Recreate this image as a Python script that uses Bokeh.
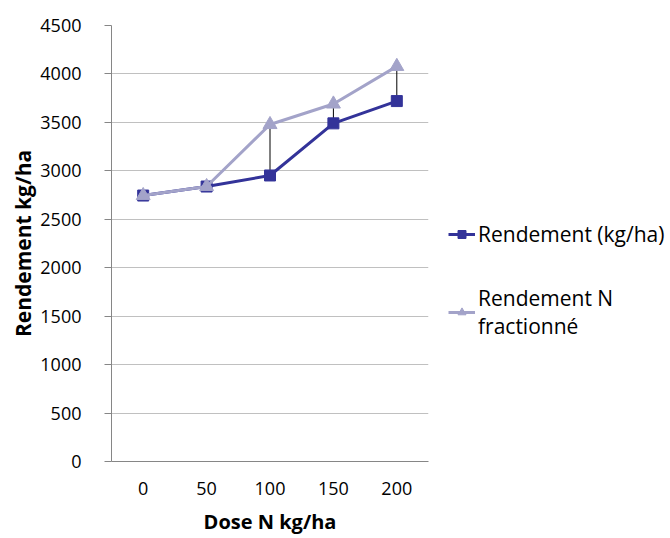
from bokeh.plotting import figure
from bokeh.models import FactorRange, Range1d, Legend, LegendItem, FixedTicker
from bokeh.embed import file_html
from bokeh.resources import INLINE

doses = ["0", "50", "100", "150", "200"]
rendement = [2745, 2838, 2952, 3490, 3720]
rendement_frac = [2745, 2838, 3478, 3690, 4078]
y_ticks = [0, 500, 1000, 1500, 2000, 2500, 3000, 3500, 4000, 4500]

BLUE = "#333399"
LAV = "#a3a3c9"
FONT = "Open Sans"

p = figure(frame_width=317, frame_height=436, x_range=FactorRange(*doses, range_padding=0),
           y_range=Range1d(0, 4500), output_backend="svg", toolbar_location=None,
           min_border_left=111, min_border_right=242, min_border_top=25, min_border_bottom=77)
p.outline_line_color = None
p.background_fill_color = "white"
p.border_fill_color = "white"

# axes
p.yaxis.ticker = FixedTicker(ticks=y_ticks)
p.yaxis.minor_tick_line_color = None
p.yaxis.major_tick_in = 0
p.yaxis.major_tick_out = 7
p.yaxis.major_tick_line_color = "#868686"
p.yaxis.axis_line_color = "#868686"
p.yaxis.major_label_standoff = 23
p.yaxis.major_label_text_font = FONT
p.yaxis.major_label_text_font_size = "18px"
p.yaxis.major_label_text_color = "black"
p.yaxis.axis_label = "Rendement kg/ha"
p.yaxis.axis_label_text_font = FONT
p.yaxis.axis_label_text_font_style = "bold"
p.yaxis.axis_label_text_font_size = "21px"
p.yaxis.axis_label_text_color = "black"
p.yaxis.axis_label_standoff = 0

p.xaxis.major_tick_in = 0
p.xaxis.major_tick_out = 0
p.xaxis.axis_line_color = "#868686"
p.xaxis.major_label_standoff = 20
p.xaxis.major_label_text_font = FONT
p.xaxis.major_label_text_font_size = "18px"
p.xaxis.major_label_text_color = "black"
p.xaxis.axis_label = "Dose N kg/ha"
p.xaxis.axis_label_text_font = FONT
p.xaxis.axis_label_text_font_style = "bold"
p.xaxis.axis_label_text_font_size = "20px"
p.xaxis.axis_label_text_color = "black"
p.xaxis.axis_label_standoff = 10

p.xgrid.grid_line_color = None
p.ygrid.grid_line_color = "#c0c0c0"
p.ygrid.grid_line_width = 1

# high-low lines
p.segment(x0=doses, y0=rendement, x1=doses, y1=rendement_frac, line_color="black", line_width=1)

r1 = p.line(doses, rendement, line_color=BLUE, line_width=3)
s1 = p.scatter(doses, rendement, marker="square", size=11, fill_color=BLUE, line_color=BLUE)
r2 = p.line(doses, rendement_frac, line_color=LAV, line_width=3)
s2 = p.scatter(doses, rendement_frac, marker="triangle", size=14, fill_color=LAV, line_color=LAV)

legend = Legend(items=[LegendItem(label="Rendement (kg/ha)", renderers=[r1, s1]),
                       LegendItem(label="Rendement N\nfractionné", renderers=[r2, s2])],
                location=(20, 121), padding=0, margin=0, border_line_alpha=0,
                background_fill_alpha=0, glyph_width=27, label_standoff=3, spacing=36,
                label_text_font=FONT, label_text_font_size="21px", label_text_color="black")
p.add_layout(legend, "right")

open("out.html", "w").write(file_html(p, INLINE))
